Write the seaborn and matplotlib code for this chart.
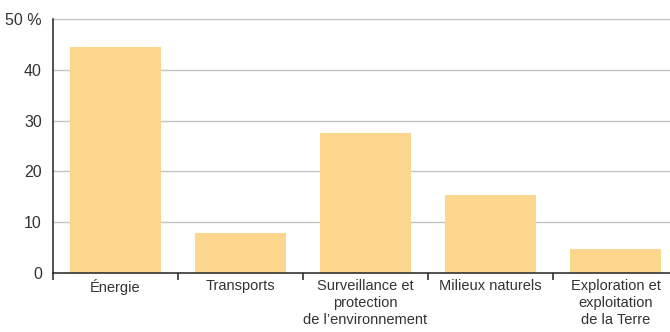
import numpy as np
import pandas as pd
import seaborn as sns
from matplotlib import pyplot as plt
from matplotlib import font_manager

categories = ["Énergie", "Transports", "Surveillance et\nprotection\nde l’environnement",
              "Milieux naturels", "Exploration et\nexploitation\nde la Terre"]
values = [44.5, 7.9, 27.6, 15.4, 4.7]
y_ticks = [0, 10, 20, 30, 40, 50]
y_labels = ["0", "10", "20", "30", "40", "50 %"]

df = pd.DataFrame({"cat": categories, "val": values})

sns.set_style("white")
names = {f.name for f in font_manager.fontManager.ttflist}
family = "Liberation Sans Narrow" if "Liberation Sans Narrow" in names else "Liberation Sans"
plt.rcParams['font.family'] = [family, 'DejaVu Sans']

fig = plt.figure(figsize=(6.7, 3.32), dpi=100)
ax = fig.add_axes([53 / 670, 1 - 273 / 332, 625 / 670, 254 / 332])

sns.barplot(data=df, x="cat", y="val", color="#fdd78e", width=0.73,
            saturation=1, ax=ax, zorder=2, linewidth=0)

ax.set_xlim(-0.5, 4.5)
ax.set_ylim(0, 50)
ax.set_yticks(y_ticks)
ax.set_yticklabels(y_labels)
ax.set_xlabel("")
ax.set_ylabel("")

for y in y_ticks[1:]:
    ax.axhline(y, color="#c4c4c4", lw=1, zorder=1, clip_on=False)

for s in ["top", "right"]:
    ax.spines[s].set_visible(False)
ax.spines["left"].set_color("#222222")
ax.spines["bottom"].set_color("#222222")
ax.spines["left"].set_linewidth(1.1)
ax.spines["bottom"].set_linewidth(1.1)

ax.tick_params(axis="y", length=5, width=1.1, color="#222222",
               labelsize=11.5, labelcolor="#333333", pad=3)
ax.tick_params(axis="x", which="major", length=0, labelsize=10.5,
               labelcolor="#333333", pad=4)
ax.set_xticks(np.arange(-0.5, 4.6, 1), minor=True)
ax.tick_params(axis="x", which="minor", bottom=True, direction="out",
               length=5, width=1.1, color="#222222")
for lbl in ax.get_xticklabels():
    lbl.set_linespacing(1.3)

fig.savefig("out.png", dpi=100)
